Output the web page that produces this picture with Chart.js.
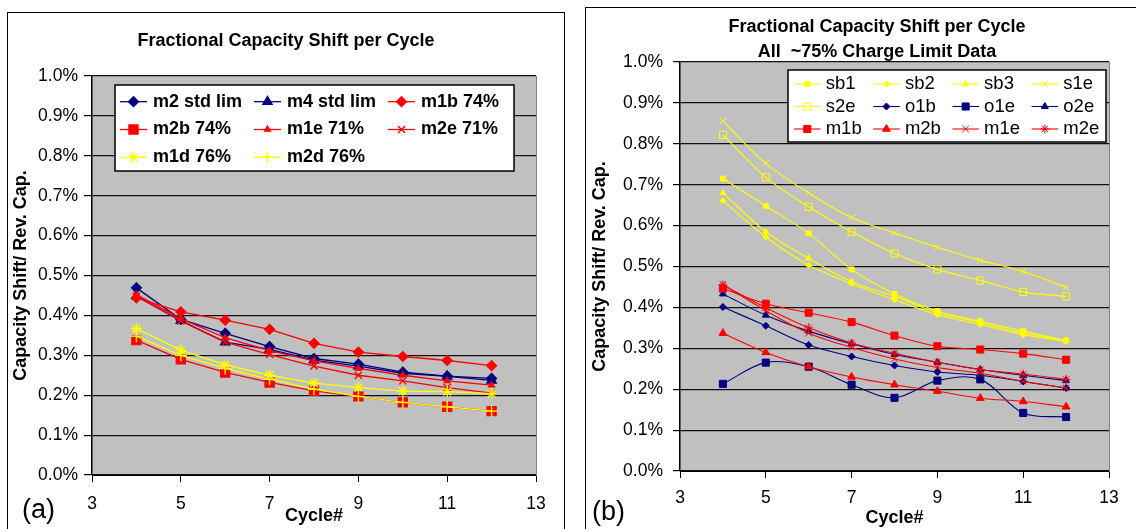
<!DOCTYPE html>
<html>
<head>
<meta charset="utf-8">
<title>Fractional Capacity Shift per Cycle</title>
<script src="https://cdn.jsdelivr.net/npm/chart.js"></script>
<style>
  html, body { margin: 0; padding: 0; background: #fff; }
  body { position: relative; width: 1136px; height: 529px; overflow: hidden; }
  .panel { position: absolute; outline: 1px solid #000; background: #fff; }
  .panel canvas { display: block; }
  .tag { position: absolute; font: 27px "Liberation Sans", Arial, sans-serif; line-height: 1; color: #000; }
</style>
</head>
<body>
<div class="panel" style="left:8px;top:13px;width:556px;height:516px">
  <canvas id="chart-a" width="556" height="516"></canvas>
</div>
<div class="panel" style="left:586px;top:8px;width:582px;height:521px">
  <canvas id="chart-b" width="582" height="521"></canvas>
</div>
<div class="tag" style="left:22px;top:496px">(a)</div>
<div class="tag" style="left:592px;top:498px">(b)</div>

<script>
// cycle numbers shared by every series
const cycles = [4, 5, 6, 7, 8, 9, 10, 11, 12];

// (a) shift per cycle, % of reversible capacity
const m2StdLim = [0.469, 0.390, 0.355, 0.322, 0.292, 0.278, 0.258, 0.248, 0.242];
const m4StdLim = [0.448, 0.387, 0.333, 0.315, 0.288, 0.273, 0.255, 0.247, 0.237];
const m1b74 = [0.444, 0.409, 0.388, 0.365, 0.330, 0.308, 0.297, 0.287, 0.274];
const m2b74 = [0.338, 0.290, 0.257, 0.232, 0.211, 0.197, 0.182, 0.171, 0.160];
const m1e71 = [0.452, 0.392, 0.344, 0.312, 0.286, 0.267, 0.250, 0.236, 0.225];
const m2e71 = [0.448, 0.386, 0.333, 0.302, 0.273, 0.250, 0.236, 0.219, 0.205];
const m1d76 = [0.367, 0.313, 0.276, 0.250, 0.230, 0.219, 0.210, 0.209, 0.204];
const m2d76 = [0.348, 0.300, 0.267, 0.240, 0.215, 0.197, 0.182, 0.171, 0.160];

// (b) all ~75% charge limit cells
const sb1 = [0.715, 0.648, 0.581, 0.493, 0.433, 0.391, 0.366, 0.342, 0.319];
const sb2 = [0.661, 0.572, 0.503, 0.458, 0.419, 0.382, 0.358, 0.333, 0.317];
const sb3 = [0.680, 0.585, 0.520, 0.463, 0.427, 0.387, 0.363, 0.337, 0.319];
const s1e = [0.856, 0.752, 0.680, 0.620, 0.582, 0.547, 0.515, 0.488, 0.449];
const s2e = [0.822, 0.718, 0.646, 0.585, 0.532, 0.493, 0.466, 0.438, 0.427];
const o1b = [0.401, 0.355, 0.308, 0.280, 0.258, 0.242, 0.234, 0.219, 0.203];
const o1e = [0.213, 0.265, 0.255, 0.211, 0.179, 0.221, 0.224, 0.142, 0.132];
const o2e = [0.433, 0.381, 0.342, 0.311, 0.285, 0.266, 0.248, 0.234, 0.221];
const m1b = [0.446, 0.409, 0.387, 0.364, 0.331, 0.305, 0.297, 0.287, 0.272];
const m2b = [0.337, 0.290, 0.255, 0.230, 0.211, 0.195, 0.178, 0.170, 0.157];
const m1e = [0.456, 0.392, 0.337, 0.302, 0.274, 0.253, 0.239, 0.219, 0.203];
const m2e = [0.455, 0.399, 0.350, 0.313, 0.288, 0.266, 0.248, 0.237, 0.224];

const yTicks = { min: 0, max: 1.0, step: 0.1 };
const xTicks = { min: 3, max: 13, step: 2 };

const FONT = '"Liberation Sans", Arial, sans-serif';
const NAVY = '#000080';
const RED = '#ff0000';
const YELLOW = '#ffff00';

Chart.defaults.font.family = FONT;
Chart.defaults.color = '#000';

function series(label, values, color, style, radius, opts) {
    opts = opts || {};
    return {
        label: label,
        data: cycles.map((c, i) => ({ x: c, y: values[i] })),
        borderColor: color,
        backgroundColor: color,
        borderWidth: opts.width || 1.3,
        pointStyle: style,
        pointRadius: radius,
        pointBackgroundColor: opts.hollow ? 'rgba(0,0,0,0)' : color,
        pointBorderColor: color,
        pointBorderWidth: opts.pointWidth || 1.2,
        tension: opts.tension || 0,
    };
}

// grey plot area like the spreadsheet charts
const plotFill = {
    id: 'plotFill',
    beforeDraw(chart) {
        const a = chart.chartArea;
        const ctx = chart.ctx;
        ctx.save();
        ctx.fillStyle = '#c0c0c0';
        ctx.fillRect(a.left, a.top, a.right - a.left, a.bottom - a.top);
        ctx.restore();
    },
};

// boxed legend laid out in a fixed grid, drawn over the plot
const boxLegend = {
    id: 'boxLegend',
    afterDatasetsDraw(chart, args, o) {
        const ctx = chart.ctx;
        ctx.save();
        ctx.fillStyle = '#fff';
        ctx.fillRect(o.x, o.y, o.w, o.h);
        ctx.strokeStyle = '#000';
        ctx.lineWidth = 1.5;
        ctx.strokeRect(o.x, o.y, o.w, o.h);
        ctx.font = o.textFont;
        ctx.textBaseline = 'middle';
        ctx.textAlign = 'left';
        chart.data.datasets.forEach((ds, i) => {
            const col = i % o.cols;
            const row = Math.floor(i / o.cols);
            const lx = o.x + o.lineX + col * o.colW;
            const ly = o.y + o.rowY + row * o.rowH;
            ctx.strokeStyle = ds.borderColor;
            ctx.lineWidth = ds.borderWidth;
            ctx.beginPath();
            ctx.moveTo(lx, ly);
            ctx.lineTo(lx + o.lineLen, ly);
            ctx.stroke();
            ctx.fillStyle = ds.pointBackgroundColor;
            ctx.strokeStyle = ds.pointBorderColor;
            ctx.lineWidth = ds.pointBorderWidth;
            Chart.helpers.drawPoint(ctx, {
                pointStyle: ds.pointStyle,
                radius: ds.pointRadius,
                rotation: 0,
                borderWidth: ds.pointBorderWidth,
            }, lx + o.lineLen / 2, ly);
            ctx.fillStyle = '#000';
            ctx.fillText(ds.label, lx + o.textX, ly);
        });
        ctx.restore();
    },
};

function scales(o) {
    const tickFont = { size: 17.5 };
    const titleFont = { size: 18, weight: 'bold' };
    return {
        x: {
            type: 'linear',
            min: xTicks.min,
            max: xTicks.max,
            ticks: { stepSize: xTicks.step, font: tickFont, color: '#000', padding: o.xPad },
            grid: { drawOnChartArea: false, tickLength: 7, tickColor: '#000', lineWidth: 1 },
            border: { color: '#000', width: 1 },
            title: { display: true, text: 'Cycle#', color: '#000', font: titleFont, padding: { top: 0, bottom: o.xTitlePad } },
            afterFit: (s) => { s.height = o.xHeight; },
        },
        y: {
            type: 'linear',
            min: yTicks.min,
            max: yTicks.max,
            ticks: {
                stepSize: yTicks.step,
                font: tickFont,
                color: '#000',
                padding: o.yPad,
                callback: (v) => v.toFixed(1) + '%',
            },
            grid: { color: '#111', lineWidth: 1.2, tickLength: o.yTick, tickColor: '#000' },
            border: { color: '#000', width: 1.5 },
            title: { display: true, text: 'Capacity Shift/ Rev. Cap.', color: '#000', font: titleFont, padding: { top: o.yTitlePad, bottom: 0 } },
            afterFit: (s) => { s.width = o.yWidth; },
        },
        // right edge of the plot area
        edge: {
            type: 'linear',
            position: 'right',
            grid: { display: false },
            ticks: { display: false },
            border: { color: '#808080', width: 1 },
            afterFit: (s) => { s.width = o.edgeWidth; },
        },
    };
}

function makeChart(id, datasets, title, o) {
    datasets.forEach((ds, i) => { ds.order = -i; });
    return new Chart(document.getElementById(id), {
        type: 'line',
        data: { datasets: datasets },
        options: {
            responsive: false,
            animation: false,
            events: [],
            layout: { padding: 0 },
            scales: scales(o),
            plugins: {
                legend: { display: false },
                tooltip: { enabled: false },
                title: {
                    display: true,
                    text: title,
                    color: '#000',
                    font: { size: 18, weight: 'bold', lineHeight: o.titleLine },
                    padding: { top: o.titleTop, bottom: o.titleBottom },
                },
                boxLegend: o.legend,
            },
        },
        plugins: [plotFill, boxLegend],
    });
}

makeChart('chart-a', [
    series('m2 std lim', m2StdLim, NAVY, 'rectRot', 5),
    series('m4 std lim', m4StdLim, NAVY, 'triangle', 5.5),
    series('m1b 74%', m1b74, RED, 'rectRot', 5),
    series('m2b 74%', m2b74, RED, 'rect', 6.5),
    series('m1e 71%', m1e71, RED, 'triangle', 3.5),
    series('m2e 71%', m2e71, RED, 'crossRot', 5, { pointWidth: 1.4 }),
    series('m1d 76%', m1d76, YELLOW, 'star', 5.5, { pointWidth: 1.4 }),
    series('m2d 76%', m2d76, YELLOW, 'cross', 6, { pointWidth: 1.4 }),
], 'Fractional Capacity Shift per Cycle', {
    titleLine: 1.2, titleTop: 17.2, titleBottom: 24.2,
    yWidth: 84, yTick: 8, yPad: 6, yTitlePad: 2.2,
    xHeight: 54, xPad: 12, xTitlePad: 2.2,
    edgeWidth: 28,
    legend: {
        x: 107, y: 72, w: 399, h: 86,
        cols: 3, colW: 134, rowH: 27.8, rowY: 16.7,
        lineX: 5, lineLen: 27, textX: 33,
        textFont: 'bold 18px ' + FONT,
    },
});

const smooth = { tension: 0.35, width: 1.1, pointWidth: 1 };

makeChart('chart-b', [
    series('sb1', sb1, YELLOW, 'rect', 3.5, smooth),
    series('sb2', sb2, YELLOW, 'rectRot', 3, smooth),
    series('sb3', sb3, YELLOW, 'triangle', 3.5, smooth),
    series('s1e', s1e, YELLOW, 'crossRot', 4.5, smooth),
    series('s2e', s2e, YELLOW, 'rect', 5, Object.assign({ hollow: true }, smooth)),
    series('o1b', o1b, NAVY, 'rectRot', 3.5, smooth),
    series('o1e', o1e, NAVY, 'rect', 5, smooth),
    series('o2e', o2e, NAVY, 'triangle', 4, smooth),
    series('m1b', m1b, RED, 'rect', 5, smooth),
    series('m2b', m2b, RED, 'triangle', 4.5, smooth),
    series('m1e', m1e, RED, 'crossRot', 4.5, smooth),
    series('m2e', m2e, RED, 'star', 4.5, smooth),
], ['Fractional Capacity Shift per Cycle', 'All  ~75% Charge Limit Data'], {
    titleLine: 25 / 18, titleTop: 6.5, titleBottom: -2.5,
    yWidth: 94, yTick: 7, yPad: 10, yTitlePad: 3.2,
    xHeight: 58, xPad: 10, xTitlePad: 0.2,
    edgeWidth: 59,
    legend: {
        x: 202, y: 62, w: 318, h: 72,
        cols: 4, colW: 79.2, rowH: 22.5, rowY: 14,
        lineX: 6, lineLen: 26.5, textX: 31.7,
        textFont: '18.5px ' + FONT,
    },
});
</script>
</body>
</html>
